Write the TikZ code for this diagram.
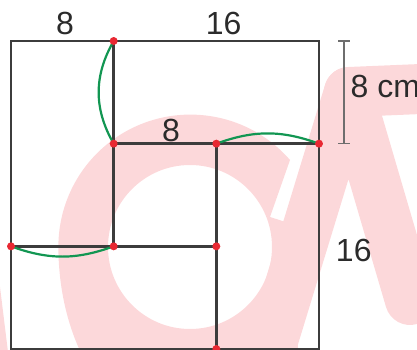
\documentclass[tikz,border=0pt]{standalone}
\usepackage{fontspec}
\setmainfont{Liberation Sans}
\usepackage{tikz}
\usetikzlibrary{positioning}
\definecolor{wmpink}{RGB}{252,216,218}
\definecolor{linegray}{RGB}{60,60,60}
\definecolor{arcgreen}{RGB}{18,150,82}
\definecolor{dotred}{RGB}{232,40,50}
\definecolor{labelgray}{RGB}{43,43,43}
\definecolor{dimgray}{RGB}{110,110,110}

\begin{document}
\begin{tikzpicture}[x=12.833pt, y=12.833pt,
  edge/.style={draw=linegray, line width=2.6pt},
  arcline/.style={draw=arcgreen, line width=2.2pt},
  dot/.style={circle, fill=dotred, inner sep=0pt, minimum size=8pt},
  lbl/.style={font=\fontsize{32}{38}\selectfont, text=labelgray, inner sep=0pt}]
\useasboundingbox (-11pt,-1pt) rectangle (406pt,349pt);
% Watermark (pixel coordinates)
\begin{scope}[shift={(-11pt,349pt)}, x=1pt, y=-1pt]
  \fill[wmpink, even odd rule] (290,160) arc[start angle=-41, end angle=-180, radius=132]
    arc[start angle=180, end angle=90, x radius=132, y radius=190]
    -- (300,437) -- (295,225) -- (270,217) -- cycle
    (190,247) circle[radius=82];
  \draw[wmpink, line width=50pt, line cap=round, line join=round] (264,370) -- (349,92) -- (410,300);
  \draw[wmpink, line width=50pt, line cap=round] (349,92) -- (445,88);
  \fill[wmpink] (0,287) -- (8,352) -- (0,352) -- cycle;
\end{scope}
% Points
\coordinate (sw) at (0,0);
\coordinate (ne) at (24,24);
\foreach \n/\x/\y in {a/8/24, b/8/16, c/16/16, d/24/16, e/0/8, f/8/8, g/16/8, h/16/0}
  \coordinate (\n) at (\x,\y);
% Lines
\draw[edge] (sw) rectangle (ne);
\draw[edge] (a) -- (f);
\draw[edge] (b) -- (d);
\draw[edge] (c) -- (h);
\draw[edge] (e) -- (g);
% Arcs
\draw[arcline] (a) to[bend right=30] (b);
\draw[arcline] (c) to[bend left=20] (d);
\draw[arcline] (e) to[bend right=20] (f);
% Dots
\foreach \n in {a,b,c,d,e,f,g,h}
  \node[dot] (dot-\n) at (\n) {};
% Dimension
\coordinate (dimtop) at (25.95,24);
\coordinate (dimbot) at (25.95,16);
\draw[dimgray, line width=1.3pt] (dimtop) -- (dimbot)
  ([xshift=-6pt]dimtop) -- ([xshift=6pt]dimtop)
  ([xshift=-6pt]dimbot) -- ([xshift=6pt]dimbot);
% Labels
\node[lbl] (lbl-top8) at (4.2,25.36) {8};
\node[lbl] (lbl-top16) at (16.57,25.35) {16};
\node[lbl] (lbl-mid8) at (12.47,17.04) {8};
\node[lbl, anchor=west] (lbl-cm) at (26.45,20.48) {8 cm};
\node[lbl] (lbl-right16) at (26.71,7.69) {16};
\end{tikzpicture}
\end{document}
